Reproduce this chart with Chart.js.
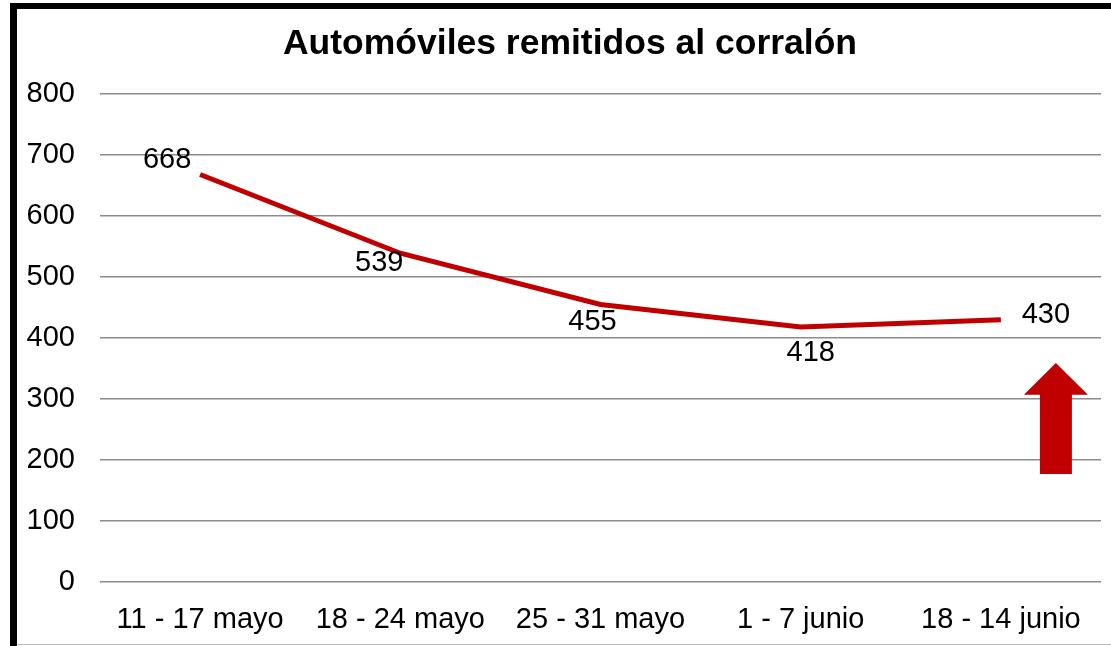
<!DOCTYPE html>
<html>
<head>
<meta charset="utf-8">
<script src="https://cdn.jsdelivr.net/npm/chart.js@4"></script>
<style>
html,body{margin:0;padding:0;background:#fff;}
#wrap{position:relative;width:1111px;height:646px;}
</style>
</head>
<body>
<div id="wrap"><canvas id="c" width="1111" height="646"></canvas></div>
<script>
const categories = ['11 - 17 mayo', '18 - 24 mayo', '25 - 31 mayo', '1 - 7 junio', '18 - 14 junio'];
const values = [668, 539, 455, 418, 430];
const yTicks = [0, 100, 200, 300, 400, 500, 600, 700, 800];
const chartTitle = 'Automóviles remitidos al corralón';

// label offsets (pixels) relative to each point, as placed in the original
const labelOffsets = [[-33, -15], [-21, 10], [-8, 18], [10, 26], [45, -5]];

const FONT = "'Liberation Sans', Arial, sans-serif";

const decor = {
  id: 'decor',
  beforeDraw(chart) {
    const ctx = chart.ctx;
    ctx.save();
    ctx.fillStyle = '#fff';
    ctx.fillRect(0, 0, chart.width, chart.height);
    ctx.fillStyle = '#000';
    ctx.fillRect(10, 3, 7, 643);
    ctx.fillRect(10, 3, 1101, 6);
    ctx.fillStyle = '#bbb';
    ctx.fillRect(17, 644, 1094, 1);
    // title
    ctx.font = 'bold 35.5px ' + FONT;
    ctx.fillStyle = '#000';
    ctx.textAlign = 'center';
    ctx.textBaseline = 'middle';
    ctx.fillText(chartTitle, 570, 44);
    ctx.restore();
  },
  afterDatasetsDraw(chart) {
    const ctx = chart.ctx;
    const meta = chart.getDatasetMeta(0);
    ctx.save();
    ctx.font = '29px ' + FONT;
    ctx.fillStyle = '#000';
    ctx.textAlign = 'center';
    ctx.textBaseline = 'middle';
    meta.data.forEach((pt, i) => {
      const o = labelOffsets[i];
      ctx.fillText(String(values[i]), pt.x + o[0], pt.y + o[1]);
    });
    // red arrow next to the last point
    const xs = chart.scales.x, ys = chart.scales.y;
    const cx = xs.getPixelForValue(values.length - 1) + 55;
    const tip = ys.getPixelForValue(359);
    const headBase = ys.getPixelForValue(307);
    const bottom = ys.getPixelForValue(177);
    ctx.fillStyle = '#C00000';
    ctx.beginPath();
    ctx.moveTo(cx, tip);
    ctx.lineTo(cx + 32, headBase);
    ctx.lineTo(cx + 16, headBase);
    ctx.lineTo(cx + 16, bottom);
    ctx.lineTo(cx - 16, bottom);
    ctx.lineTo(cx - 16, headBase);
    ctx.lineTo(cx - 32, headBase);
    ctx.closePath();
    ctx.fill();
    ctx.restore();
  }
};

new Chart(document.getElementById('c'), {
  type: 'line',
  data: {
    labels: categories,
    datasets: [{
      data: values,
      borderColor: '#C00000',
      borderWidth: 5,
      pointRadius: 0,
      tension: 0,
      fill: false
    }]
  },
  options: {
    responsive: false,
    animation: false,
    devicePixelRatio: 1,
    layout: { padding: { left: 0, right: 10, top: 94, bottom: 0 } },
    plugins: {
      legend: { display: false },
      tooltip: { enabled: false },
      title: { display: false }
    },
    scales: {
      x: {
        offset: true,
        grid: { display: false, drawTicks: false },
        border: { display: false },
        ticks: { color: '#000', font: { family: FONT, size: 29 }, padding: 21, maxRotation: 0, autoSkip: false },
        afterFit(s) { s.height = 64; }
      },
      y: {
        min: 0, max: 800,
        afterBuildTicks(s) { s.ticks = yTicks.map(v => ({ value: v })); },
        grid: { color: '#8c8c8c', lineWidth: 1.5, drawTicks: false },
        border: { display: false },
        ticks: { color: '#000', font: { family: FONT, size: 29 }, padding: 25 },
        afterFit(s) { s.width = 100; }
      }
    }
  },
  plugins: [decor]
});
</script>
</body>
</html>
